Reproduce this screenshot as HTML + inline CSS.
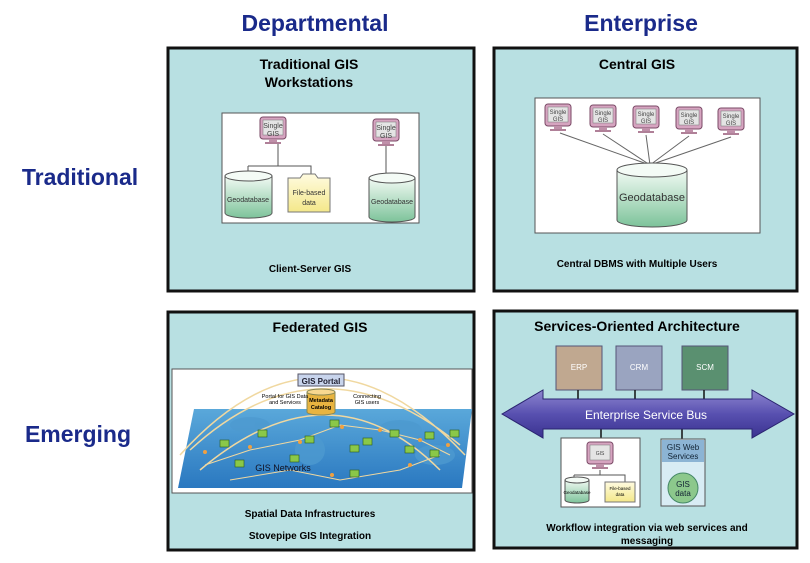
<!DOCTYPE html>
<html><head><meta charset="utf-8"><style>
html,body{margin:0;padding:0;background:#fff;width:810px;height:563px;overflow:hidden}
svg{display:block}
text{font-family:"Liberation Sans",Arial,sans-serif}
</style></head><body>
<svg width="810" height="563" viewBox="0 0 810 563" xmlns="http://www.w3.org/2000/svg">
<defs>
<linearGradient id="cyl" x1="0" y1="0" x2="0" y2="1"><stop offset="0" stop-color="#f2faf4"/><stop offset="1" stop-color="#7dc39a"/></linearGradient>
<linearGradient id="fold" x1="0" y1="0" x2="0" y2="1"><stop offset="0" stop-color="#fffbe0"/><stop offset="1" stop-color="#f4e88a"/></linearGradient>
<linearGradient id="sea" x1="0" y1="0" x2="0" y2="1"><stop offset="0" stop-color="#5aa8da"/><stop offset="1" stop-color="#2a78c0"/></linearGradient>
<linearGradient id="bus" x1="0" y1="0" x2="0" y2="1"><stop offset="0" stop-color="#8e86d0"/><stop offset="0.5" stop-color="#5850b0"/><stop offset="1" stop-color="#3a3290"/></linearGradient>
<g id="mon"><rect x="0" y="0" width="26" height="22" rx="3" fill="#d6a4c0" stroke="#7a4a66"/><rect x="3" y="3" width="20" height="15" fill="#e4e4e4" stroke="#777" stroke-width="0.5"/><rect x="9" y="22" width="8" height="3" fill="#c090aa"/><rect x="5" y="25" width="16" height="2" fill="#b08098"/></g>
</defs>
<rect width="810" height="563" fill="#fff"/>
<!-- headers -->
<text x="315" y="31" font-size="23" font-weight="bold" fill="#1a2a8a" text-anchor="middle">Departmental</text>
<text x="641" y="31" font-size="23" font-weight="bold" fill="#1a2a8a" text-anchor="middle">Enterprise</text>
<text x="80" y="185" font-size="23" font-weight="bold" fill="#1a2a8a" text-anchor="middle">Traditional</text>
<text x="78" y="442" font-size="23" font-weight="bold" fill="#1a2a8a" text-anchor="middle">Emerging</text>

<!-- panels -->
<rect x="168" y="48" width="306" height="243" fill="#b8e0e2" stroke="#111" stroke-width="3"/>
<rect x="494" y="48" width="303" height="243" fill="#b8e0e2" stroke="#111" stroke-width="3"/>
<rect x="168" y="312" width="306" height="238" fill="#b8e0e2" stroke="#111" stroke-width="3"/>
<rect x="494" y="311" width="303" height="237" fill="#b8e0e2" stroke="#111" stroke-width="3"/>

<!-- Panel 1 -->
<text x="309" y="69" font-size="14" font-weight="bold" text-anchor="middle">Traditional GIS</text>
<text x="309" y="87" font-size="14" font-weight="bold" text-anchor="middle">Workstations</text>
<rect x="222" y="113" width="197" height="110" fill="#fff" stroke="#555"/>
<use href="#mon" x="260" y="117"/>
<text x="273" y="128" font-size="7" text-anchor="middle" fill="#444">Single</text><text x="273" y="136" font-size="7" text-anchor="middle" fill="#444">GIS</text>
<use href="#mon" x="373" y="119"/>
<text x="386" y="130" font-size="7" text-anchor="middle" fill="#444">Single</text><text x="386" y="138" font-size="7" text-anchor="middle" fill="#444">GIS</text>
<path d="M278 144V166M248 166V174M248 166H311V178M386 146V176" stroke="#555" fill="none"/>
<path d="M225 176V213a23 5 0 0 0 47 0V176" fill="url(#cyl)" stroke="#555"/><ellipse cx="248.5" cy="176" rx="23.5" ry="5" fill="#f4fbf6" stroke="#555"/>
<text x="248" y="202" font-size="7" text-anchor="middle" fill="#333">Geodatabase</text>
<path d="M288 178H300l3-4h12l3 4h12V212H288Z" fill="url(#fold)" stroke="#777"/>
<text x="309" y="195" font-size="7" text-anchor="middle" fill="#333">File-based</text><text x="309" y="205" font-size="7" text-anchor="middle" fill="#333">data</text>
<path d="M369 178V217a23 5 0 0 0 46 0V178" fill="url(#cyl)" stroke="#555"/><ellipse cx="392" cy="178" rx="23" ry="5" fill="#f4fbf6" stroke="#555"/>
<text x="392" y="204" font-size="7" text-anchor="middle" fill="#333">Geodatabase</text>
<text x="310" y="272" font-size="10" font-weight="bold" text-anchor="middle">Client-Server GIS</text>

<!-- Panel 2 -->
<text x="637" y="69" font-size="14" font-weight="bold" text-anchor="middle">Central GIS</text>
<rect x="535" y="98" width="225" height="135" fill="#fff" stroke="#555"/>
<use href="#mon" x="545" y="104"/><use href="#mon" x="590" y="105"/><use href="#mon" x="633" y="106"/><use href="#mon" x="676" y="107"/><use href="#mon" x="718" y="108"/>
<g font-size="6" fill="#444" text-anchor="middle">
<text x="558" y="114">Single</text><text x="558" y="121">GIS</text>
<text x="603" y="115">Single</text><text x="603" y="122">GIS</text>
<text x="646" y="116">Single</text><text x="646" y="123">GIS</text>
<text x="689" y="117">Single</text><text x="689" y="124">GIS</text>
<text x="731" y="118">Single</text><text x="731" y="125">GIS</text>
</g>
<path d="M560 133L650 165M603 134L650 165M646 135L650 165M689 136L650 165M731 137L650 165" stroke="#666" fill="none"/>
<path d="M617 170V220a35 7 0 0 0 70 0V170" fill="url(#cyl)" stroke="#555"/><ellipse cx="652" cy="170" rx="35" ry="7" fill="#f4fbf6" stroke="#555"/>
<text x="652" y="201" font-size="11" text-anchor="middle" fill="#333">Geodatabase</text>
<text x="637" y="267" font-size="10" font-weight="bold" text-anchor="middle">Central DBMS with Multiple Users</text>

<!-- Panel 3 -->
<text x="320" y="332" font-size="14" font-weight="bold" text-anchor="middle">Federated GIS</text>
<rect x="172" y="369" width="300" height="124" fill="#fff" stroke="#555"/>
<path d="M194 409L472 409 462 488 178 488Z" fill="url(#sea)"/>
<g fill="#4d9ad0" opacity="0.8"><ellipse cx="250" cy="425" rx="20" ry="8"/><ellipse cx="310" cy="450" rx="15" ry="15"/><ellipse cx="400" cy="430" rx="22" ry="10"/><ellipse cx="435" cy="455" rx="20" ry="10"/></g>
<path d="M190 450Q320 330 460 445M200 470Q330 360 440 470M180 455Q320 300 465 455" stroke="#f0d8a0" stroke-width="1.5" fill="none"/>
<path d="M205 465L250 450 300 440 340 425 380 430 420 440 450 455M230 480L290 470 340 480 400 470 440 455" stroke="#f0d8a0" stroke-width="1" fill="none"/>
<g fill="#8ac848" stroke="#2a5a20" stroke-width="0.6">
<rect x="220" y="440" width="9" height="7"/><rect x="258" y="430" width="9" height="7"/><rect x="290" y="455" width="9" height="7"/><rect x="305" y="436" width="9" height="7"/><rect x="330" y="420" width="9" height="7"/><rect x="350" y="445" width="9" height="7"/><rect x="363" y="438" width="9" height="7"/><rect x="390" y="430" width="9" height="7"/><rect x="405" y="446" width="9" height="7"/><rect x="425" y="432" width="9" height="7"/><rect x="430" y="450" width="9" height="7"/><rect x="450" y="430" width="9" height="7"/><rect x="350" y="470" width="9" height="7"/><rect x="235" y="460" width="9" height="7"/></g>
<g fill="#f0a040"><circle cx="205" cy="452" r="2"/><circle cx="250" cy="447" r="2"/><circle cx="300" cy="442" r="2"/><circle cx="342" cy="427" r="2"/><circle cx="380" cy="430" r="2"/><circle cx="420" cy="440" r="2"/><circle cx="448" cy="445" r="2"/><circle cx="332" cy="475" r="2"/><circle cx="410" cy="465" r="2"/></g>
<rect x="298" y="374" width="46" height="12" fill="#c8d4ec" stroke="#556"/>
<text x="321" y="384" font-size="8" font-weight="bold" text-anchor="middle" fill="#223">GIS Portal</text>
<path d="M307 392V412a14 3 0 0 0 28 0V392" fill="#e8b440" stroke="#885"/><ellipse cx="321" cy="392" rx="14" ry="3" fill="#f8d890" stroke="#885"/>
<text x="321" y="402" font-size="5.5" font-weight="bold" text-anchor="middle">Metadata</text><text x="321" y="409" font-size="5.5" font-weight="bold" text-anchor="middle">Catalog</text>
<text x="285" y="398" font-size="5.5" text-anchor="middle">Portal for GIS Data</text><text x="285" y="404" font-size="5.5" text-anchor="middle">and Services</text>
<text x="367" y="398" font-size="5.5" text-anchor="middle">Connecting</text><text x="367" y="404" font-size="5.5" text-anchor="middle">GIS users</text>
<text x="283" y="471" font-size="9" text-anchor="middle" fill="#112">GIS Networks</text>
<text x="310" y="517" font-size="10" font-weight="bold" text-anchor="middle">Spatial Data Infrastructures</text>
<text x="310" y="539" font-size="10" font-weight="bold" text-anchor="middle">Stovepipe GIS Integration</text>

<!-- Panel 4 -->
<text x="637" y="331" font-size="14" font-weight="bold" text-anchor="middle">Services-Oriented Architecture</text>
<rect x="556" y="346" width="46" height="44" fill="#c0a890" stroke="#557"/><text x="579" y="370" font-size="8" fill="#fff" text-anchor="middle">ERP</text>
<rect x="616" y="346" width="46" height="44" fill="#9aa4c0" stroke="#557"/><text x="639" y="370" font-size="8" fill="#fff" text-anchor="middle">CRM</text>
<rect x="682" y="346" width="46" height="44" fill="#5a9070" stroke="#557"/><text x="705" y="370" font-size="8" fill="#fff" text-anchor="middle">SCM</text>
<path d="M578 390V400M635 390V400M704 390V400M601 428V440M682 428V440" stroke="#111" stroke-width="1.5"/>
<path d="M502 414L543 390V399H752V390L794 414 752 438V429H543V438Z" fill="url(#bus)" stroke="#2a2470"/>
<text x="646" y="419" font-size="12" fill="#fff" text-anchor="middle">Enterprise Service Bus</text>
<rect x="561" y="438" width="79" height="69" fill="#fff" stroke="#555"/>
<use href="#mon" x="587" y="442" transform="scale(1)"/>
<text x="600" y="455" font-size="5" text-anchor="middle" fill="#444">GIS</text>
<path d="M600 470V475M574 475H625V482M574 475V480" stroke="#555" fill="none"/>
<path d="M565 480V500a12 3 0 0 0 24 0V480" fill="url(#cyl)" stroke="#555"/><ellipse cx="577" cy="480" rx="12" ry="3" fill="#f4fbf6" stroke="#555"/>
<text x="577" y="494" font-size="4.5" text-anchor="middle">Geodatabase</text>
<path d="M605 482H635V502H605Z" fill="url(#fold)" stroke="#777"/>
<text x="620" y="490" font-size="4.5" text-anchor="middle">File-based</text><text x="620" y="496" font-size="4.5" text-anchor="middle">data</text>
<rect x="661" y="439" width="44" height="67" fill="#d8ecf4" stroke="#555"/>
<rect x="662" y="440" width="42" height="22" fill="#8cb4d4"/>
<text x="683" y="450" font-size="8" fill="#123" text-anchor="middle">GIS Web</text><text x="683" y="459" font-size="8" fill="#123" text-anchor="middle">Services</text>
<circle cx="683" cy="488" r="15" fill="#8cc88c" stroke="#486"/>
<text x="683" y="487" font-size="8" fill="#123" text-anchor="middle">GIS</text><text x="683" y="496" font-size="8" fill="#123" text-anchor="middle">data</text>
<text x="647" y="531" font-size="10" font-weight="bold" text-anchor="middle">Workflow integration via web services and</text>
<text x="647" y="544" font-size="10" font-weight="bold" text-anchor="middle">messaging</text>
</svg>
</body></html>
